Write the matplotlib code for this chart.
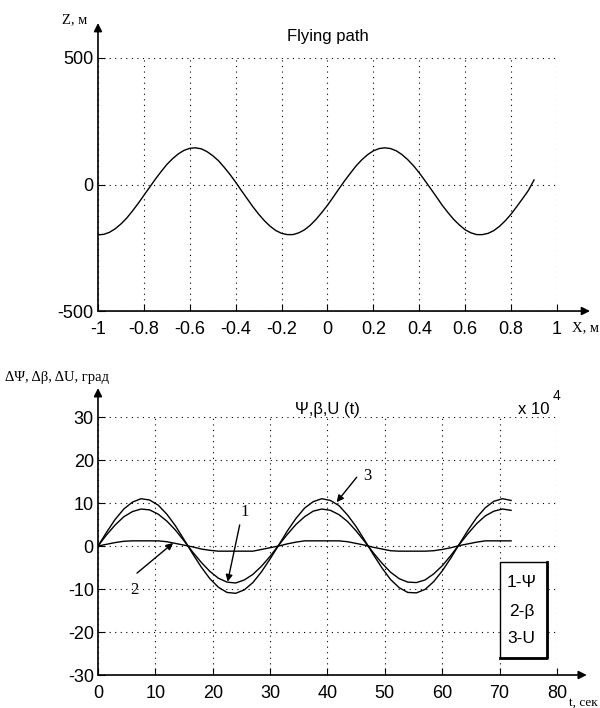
import numpy as np
import matplotlib.pyplot as plt
from matplotlib.patches import Rectangle

# flying path
xPath = [-1.000, -0.975, -0.950, -0.925, -0.900, -0.875, -0.850, -0.825,
         -0.800, -0.775, -0.750, -0.725, -0.700, -0.675, -0.650, -0.625,
         -0.600, -0.575, -0.550, -0.525, -0.500, -0.475, -0.450, -0.425,
         -0.400, -0.375, -0.350, -0.325, -0.300, -0.275, -0.250, -0.225,
         -0.200, -0.175, -0.150, -0.125, -0.100, -0.075, -0.050, -0.025,
         0.000, 0.025, 0.050, 0.075, 0.100, 0.125, 0.150, 0.175,
         0.200, 0.225, 0.250, 0.275, 0.300, 0.325, 0.350, 0.375,
         0.400, 0.425, 0.450, 0.475, 0.500, 0.525, 0.550, 0.575,
         0.600, 0.625, 0.650, 0.675, 0.700, 0.725, 0.750, 0.775,
         0.800, 0.825, 0.850, 0.875, 0.900]
zPath = [-199, -197, -189, -175, -156, -133, -105, -75,
         -43, -11, 21, 51, 79, 102, 121, 135,
         143, 145, 141, 130, 114, 94, 68, 40,
         9, -24, -56, -88, -117, -143, -165, -182,
         -193, -198, -198, -191, -179, -161, -138, -111,
         -82, -50, -17, 15, 45, 74, 98, 118,
         133, 142, 145, 142, 133, 118, 98, 74,
         46, 15, -17, -49, -82, -111, -138, -160,
         -179, -191, -198, -198, -193, -182, -165, -143,
         -117, -87, -56, -24, 18]

# angles vs time (x 10^4)
t = [0, 1.5, 3, 4.5, 6, 7.5, 9, 10.5, 12, 13.5, 15, 16.5, 18, 19.5, 21, 22.5,
     24, 25.5, 27, 28.5, 30, 31.5, 33, 34.5, 36, 37.5, 39, 40.5, 42, 43.5, 45,
     46.5, 48, 49.5, 51, 52.5, 54, 55.5, 57, 58.5, 60, 61.5, 63, 64.5, 66, 67.5,
     69, 70.5, 72]
psi = [0, 2.6, 4.9, 6.8, 8.0, 8.6, 8.4, 7.4, 5.8, 3.7, 1.2, -1.4, -3.8, -5.9,
       -7.5, -8.4, -8.6, -7.9, -6.6, -4.7, -2.4, 0.2, 2.7, 5.0, 6.8, 8.1, 8.6,
       8.3, 7.3, 5.7, 3.5, 1.0, -1.6, -4.0, -6.1, -7.6, -8.4, -8.5, -7.9, -6.5,
       -4.6, -2.2, 0.4, 2.9, 5.2, 7.0, 8.1, 8.6, 8.3]
beta = [0, 0.4, 0.8, 1.1, 1.2, 1.2, 1.2, 1.2, 1.0, 0.6, 0.2, -0.2, -0.7, -1.0,
        -1.2, -1.2, -1.2, -1.2, -1.2, -0.8, -0.4, 0.0, 0.5, 0.9, 1.2, 1.2, 1.2,
        1.2, 1.2, 1.0, 0.6, 0.2, -0.3, -0.7, -1.1, -1.2, -1.2, -1.2, -1.2, -1.1,
        -0.8, -0.4, 0.1, 0.5, 0.9, 1.2, 1.2, 1.2, 1.2]
u = [0, 3.2, 6.2, 8.6, 10.2, 11.0, 10.7, 9.5, 7.4, 4.7, 1.5, -1.8, -4.9, -7.6,
     -9.6, -10.8, -11.0, -10.2, -8.5, -6.0, -3.0, 0.2, 3.5, 6.4, 8.8, 10.3, 11.0,
     10.6, 9.4, 7.2, 4.5, 1.3, -2.0, -5.1, -7.8, -9.7, -10.8, -10.9, -10.1, -8.3,
     -5.8, -2.8, 0.5, 3.7, 6.6, 8.9, 10.4, 11.0, 10.6]

xTicks = [-1, -0.8, -0.6, -0.4, -0.2, 0, 0.2, 0.4, 0.6, 0.8, 1]
zTicks = [-500, 0, 500]
tTicks = [0, 10, 20, 30, 40, 50, 60, 70, 80]
aTicks = [-30, -20, -10, 0, 10, 20, 30]

narrow = ['Liberation Sans', 'DejaVu Sans']
serif = ['Liberation Serif', 'DejaVu Serif']


def matlab_axes(ax, xt, yt, xlabs, ylabs, xtop, ytop):
    ax.set_xlim(xt[0], xt[-1])
    ax.set_ylim(yt[0], yt[-1])
    ax.set_xticks(xt)
    ax.set_yticks(yt)
    ax.set_xticklabels(xlabs, family=narrow, fontsize=13)
    ax.set_yticklabels(ylabs, family=narrow, fontsize=13)
    ax.tick_params(direction='in', length=5, width=0.8)
    ax.tick_params(axis='x', pad=7)
    ax.tick_params(axis='y', pad=3)
    for s in ['top', 'right', 'left', 'bottom']:
        ax.spines[s].set_visible(False)
    ax.grid(True, linestyle=(0, (1, 4)), color='k', linewidth=0.8)
    # axes with arrows
    ax.annotate('', xy=(xtop, 0), xytext=(0, 0), xycoords='axes fraction',
                arrowprops=dict(arrowstyle='-|>', color='k', lw=1.2,
                                mutation_scale=12, shrinkA=0, shrinkB=0))
    ax.annotate('', xy=(0, ytop), xytext=(0, 0), xycoords='axes fraction',
                arrowprops=dict(arrowstyle='-|>', color='k', lw=1.2,
                                mutation_scale=12, shrinkA=0, shrinkB=0))


fig = plt.figure(figsize=(6, 7.08), dpi=100)

ax1 = fig.add_axes([0.1633, 0.5607, 0.765, 0.3574])
ax1.plot(xPath, zPath, color='k', linewidth=1)
matlab_axes(ax1, xTicks, zTicks, [str(v) for v in xTicks],
            [str(v) for v in zTicks], 1.072, 1.138)
ax1.set_title('Flying path', family=narrow, fontsize=12, pad=12)
fig.text(75 / 600, 1 - 20 / 708, 'Z, м', family=serif, fontsize=10.5,
         ha='center', va='center')
fig.text(572 / 600, 1 - 328 / 708, 'X, м', family=serif, fontsize=10.5,
         ha='left', va='center')

ax2 = fig.add_axes([0.1633, 0.0466, 0.765, 0.3644])
ax2.plot(t, psi, color='k', linewidth=1)
ax2.plot(t, beta, color='k', linewidth=1)
ax2.plot(t, u, color='k', linewidth=1)
matlab_axes(ax2, tTicks, aTicks, [str(v) for v in tTicks],
            [str(v) for v in aTicks], 1.065, 1.112)
ax2.set_title('Ψ,β,U (t)', family=narrow, fontsize=12, pad=2)
fig.text(5 / 600, 1 - 378 / 708, 'ΔΨ, Δβ, ΔU, град', family=serif,
         fontsize=10.5, ha='left', va='center')
fig.text(550 / 600, 1 - 409 / 708, 'x 10', family=narrow, fontsize=12,
         ha='right', va='center')
fig.text(553 / 600, 1 - 396 / 708, '4', family=narrow, fontsize=10,
         ha='left', va='center')
fig.text(598 / 600, 1 - 703 / 708, 't, сек', family=serif, fontsize=9.5,
         ha='right', va='center')

arr = dict(arrowstyle='-|>', color='k', lw=1, mutation_scale=10,
           shrinkA=0, shrinkB=0)
ax2.annotate('', xy=(22.6, -8.3), xytext=(24.7, 4.9), arrowprops=arr)
ax2.text(25.6, 7.9, '1', family=serif, fontsize=12, ha='center', va='center')
ax2.annotate('', xy=(13.1, 0.7), xytext=(6.8, -6.3), arrowprops=arr)
ax2.text(6.4, -10.3, '2', family=serif, fontsize=12, ha='center', va='center')
ax2.annotate('', xy=(41.6, 10.2), xytext=(45.1, 16.0), arrowprops=arr)
ax2.text(46.9, 16.2, '3', family=serif, fontsize=12, ha='center', va='center')

# legend box
ax2.add_patch(Rectangle((70, -26), 8.3, 22.3, facecolor='white',
                        edgecolor='k', linewidth=1, zorder=5))
ax2.plot([78.3, 78.3, 70], [-3.7, -26, -26], color='k', linewidth=2,
         zorder=6)
ax2.text(73.8, -8.6, '1-Ψ', family=narrow, fontsize=12.5, ha='center',
         va='center', zorder=7)
ax2.text(73.8, -15.3, '2-β', family=narrow, fontsize=12.5, ha='center',
         va='center', zorder=7)
ax2.text(73.8, -21.6, '3-U', family=narrow, fontsize=12.5, ha='center',
         va='center', zorder=7)

plt.savefig("out.png")
plt.close()
